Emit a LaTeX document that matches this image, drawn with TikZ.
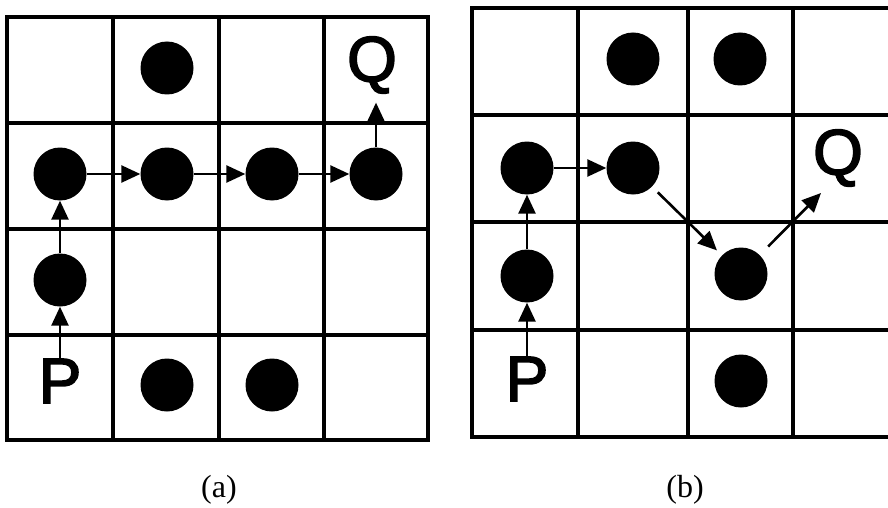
\documentclass[tikz,border=0pt]{standalone}
\usepackage{fontspec}
\setmainfont{Liberation Serif}
\newfontfamily\lettfont[FakeBold=2.6]{Liberation Sans}
\usetikzlibrary{arrows.meta}
\tikzset{
  gridline/.style={line width=3.2pt, line cap=rect},
  dot/.style={circle, fill=black, draw=none, minimum size=53pt, inner sep=0pt},
  letter/.style={inner sep=0pt, font=\lettfont\fontsize{64}{64}\selectfont},
  caption/.style={inner sep=0pt, font=\fontsize{32}{32}\selectfont},
  move/.style={line width=2.6pt, -{Triangle[length=19pt,width=17pt]}},
}
\begin{document}
\begin{tikzpicture}[x=1pt,y=-1pt]
\useasboundingbox (0,0) rectangle (888,508);
% ---- grid (a)
\foreach \x in {7,113,219,324,428} \draw[gridline] (\x,17) -- (\x,440);
\foreach \y in {17,123,229,335,440} \draw[gridline] (7,\y) -- (428,\y);
% ---- grid (b)
\foreach \x in {472,578,688,793} \draw[gridline] (\x,8) -- (\x,437);
\foreach \y in {8,115,222,330,437} \draw[gridline] (472,\y) -- (888,\y);
% ---- nodes (a)
\node[dot] (a01) at (167,68) {};
\node[dot] (a10) at (60,174) {};
\node[dot] (a11) at (167,174) {};
\node[dot] (a12) at (272,174) {};
\node[dot] (a13) at (376,174) {};
\node[dot] (a20) at (60,280) {};
\node[dot] (a31) at (167,385) {};
\node[dot] (a32) at (272,385) {};
\node[letter] (Pa) at (60,381) {P};
\node[letter] (Qa) at (372,65) {Q};
% ---- nodes (b)
\node[dot] (b01) at (633,59) {};
\node[dot] (b02) at (740,59) {};
\node[dot] (b10) at (527,168) {};
\node[dot] (b11) at (633,168) {};
\node[dot] (b20) at (527,276) {};
\node[dot] (b22) at (741,274) {};
\node[dot] (b32) at (741,381) {};
\node[letter] (Pb) at (527,379) {P};
\node[letter] (Qb) at (838,158) {Q};
\coordinate (qbend) at (821,193);
% ---- arrows (a)
\draw[move] (Pa.north) -- (a20);
\draw[move] (a20) -- (a10);
\draw[move] (a10) -- (a11);
\draw[move] (a11) -- (a12);
\draw[move] (a12) -- (a13);
\draw[move, shorten >=9pt] (a13.north) -- (a13.north |- Qa.south);
% ---- arrows (b)
\draw[move] (Pb.north) -- (b20);
\draw[move] (b20) -- (b10);
\draw[move] (b10) -- (b11);
\draw[move, shorten <=8pt, shorten >=7pt] (b11) -- (b22);
\draw[move, shorten <=12pt] (b22) -- (qbend);
% ---- captions
\node[caption] (capa) at (219,490) {(a)};
\node[caption] (capb) at (685,490) {(b)};
\end{tikzpicture}
\end{document}
